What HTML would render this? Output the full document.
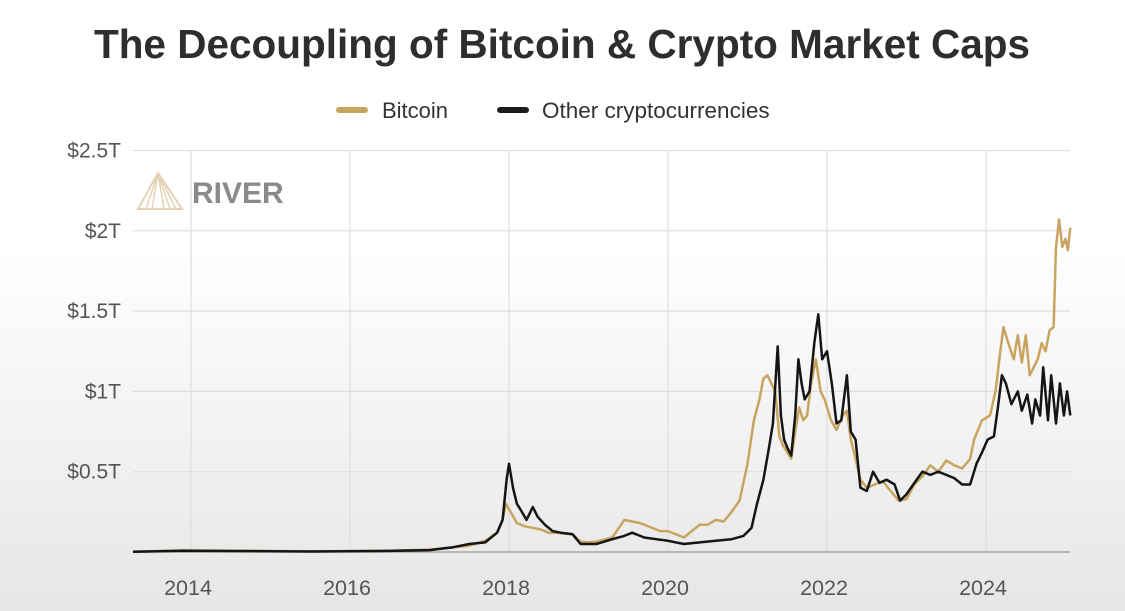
<!DOCTYPE html>
<html><head><meta charset="utf-8"><style>
html,body{margin:0;padding:0}
body{width:1125px;height:611px;overflow:hidden;background:linear-gradient(#ffffff 0%,#ffffff 40%,#e6e6e6 100%);font-family:"Liberation Sans",sans-serif}
</style></head><body>
<svg id="chart" width="1125" height="611" xmlns="http://www.w3.org/2000/svg" style="position:absolute;left:0;top:0">
<text x="562" y="58" text-anchor="middle" font-size="40.5" font-weight="bold" fill="#2e2e2e">The Decoupling of Bitcoin &amp; Crypto Market Caps</text>
<g>
<g><rect x="336" y="107" width="32" height="6" rx="3" fill="#c9a461"/><text x="382" y="118" font-size="22" fill="#333">Bitcoin</text></g>
<g><rect x="497" y="107" width="32" height="6" rx="3" fill="#1c1c1c"/><text x="542" y="118" font-size="22.5" fill="#333">Other cryptocurrencies</text></g>
</g>
<g>
<path d="M158 173 L138 209 L182 209 Z" fill="none" stroke="#e3d3b4" stroke-width="2"/>
<path d="M158 173 L146 209 M158 173 L152 209 M158 173 L164 209 M158 173 L170 209 M158 173 L176 209" stroke="#e3d3b4" stroke-width="1.5"/>
<text x="192" y="203" font-size="30" font-weight="bold" fill="#8a8a8a">RIVER</text>
</g>
<g id="grid"></g><g id="axes"></g><g id="series"></g>
</svg>
<script>
const yTicks=[0.5,1,1.5,2,2.5];
const yTickLabels=["$0.5T","$1T","$1.5T","$2T","$2.5T"];
const xTicks=[2014,2016,2018,2020,2022,2024];
const btcDates=[2013.27,2013.9,2014.5,2015.5,2016.5,2017.0,2017.3,2017.5,2017.7,2017.85,2017.92,2017.96,2018.02,2018.1,2018.2,2018.3,2018.4,2018.5,2018.6,2018.8,2018.9,2019.0,2019.1,2019.3,2019.45,2019.55,2019.65,2019.8,2019.9,2020.0,2020.2,2020.3,2020.4,2020.5,2020.6,2020.7,2020.8,2020.9,2021.0,2021.08,2021.15,2021.2,2021.25,2021.3,2021.35,2021.4,2021.45,2021.5,2021.55,2021.6,2021.65,2021.7,2021.75,2021.8,2021.86,2021.92,2021.97,2022.05,2022.12,2022.2,2022.25,2022.3,2022.35,2022.42,2022.5,2022.6,2022.7,2022.8,2022.9,2023.0,2023.1,2023.2,2023.3,2023.4,2023.5,2023.6,2023.7,2023.8,2023.85,2023.95,2024.05,2024.12,2024.18,2024.22,2024.28,2024.35,2024.4,2024.45,2024.5,2024.55,2024.6,2024.65,2024.7,2024.75,2024.8,2024.85,2024.88,2024.92,2024.96,2025.0,2025.03,2025.06];
const btcValues=[0.002,0.01,0.008,0.004,0.008,0.015,0.03,0.04,0.07,0.12,0.2,0.3,0.25,0.18,0.16,0.15,0.14,0.12,0.12,0.11,0.065,0.06,0.065,0.09,0.2,0.19,0.18,0.15,0.13,0.13,0.09,0.13,0.17,0.17,0.2,0.19,0.25,0.32,0.55,0.82,0.95,1.08,1.1,1.05,1.0,0.72,0.66,0.62,0.58,0.75,0.9,0.82,0.85,1.05,1.2,1.0,0.95,0.82,0.76,0.85,0.88,0.7,0.6,0.45,0.4,0.42,0.44,0.38,0.32,0.33,0.42,0.47,0.54,0.5,0.57,0.54,0.52,0.58,0.7,0.82,0.85,1.0,1.25,1.4,1.3,1.2,1.35,1.18,1.35,1.1,1.15,1.2,1.3,1.25,1.38,1.4,1.9,2.07,1.9,1.95,1.88,2.02];
const othDates=[2013.27,2013.9,2014.5,2015.5,2016.5,2017.0,2017.3,2017.5,2017.7,2017.85,2017.92,2017.97,2018.0,2018.05,2018.1,2018.15,2018.22,2018.3,2018.36,2018.45,2018.55,2018.65,2018.8,2018.9,2019.1,2019.3,2019.45,2019.55,2019.7,2019.85,2020.0,2020.2,2020.4,2020.6,2020.8,2020.95,2021.05,2021.12,2021.2,2021.27,2021.32,2021.38,2021.42,2021.46,2021.5,2021.55,2021.6,2021.64,2021.68,2021.72,2021.78,2021.84,2021.89,2021.94,2022.0,2022.06,2022.12,2022.18,2022.25,2022.3,2022.36,2022.42,2022.5,2022.58,2022.66,2022.75,2022.85,2022.92,2023.0,2023.1,2023.2,2023.3,2023.4,2023.5,2023.6,2023.7,2023.8,2023.88,2023.95,2024.02,2024.1,2024.15,2024.2,2024.25,2024.32,2024.4,2024.45,2024.52,2024.58,2024.62,2024.68,2024.72,2024.78,2024.82,2024.88,2024.93,2024.98,2025.02,2025.06];
const othValues=[0.002,0.008,0.006,0.003,0.007,0.012,0.03,0.05,0.06,0.12,0.2,0.45,0.55,0.4,0.3,0.26,0.2,0.28,0.22,0.17,0.13,0.12,0.11,0.05,0.05,0.08,0.1,0.12,0.09,0.08,0.07,0.05,0.06,0.07,0.08,0.1,0.15,0.3,0.45,0.65,0.8,1.28,0.85,0.7,0.65,0.6,0.85,1.2,1.05,0.95,1.0,1.3,1.48,1.2,1.25,1.05,0.8,0.82,1.1,0.75,0.7,0.4,0.38,0.5,0.43,0.45,0.42,0.32,0.36,0.43,0.5,0.48,0.5,0.48,0.46,0.42,0.42,0.55,0.62,0.7,0.72,0.9,1.1,1.05,0.92,1.0,0.88,0.98,0.8,0.95,0.85,1.15,0.82,1.1,0.8,1.05,0.85,1.0,0.85];
const X=t=>191+79.5*(t-2014), Y=v=>552-160.6*v;
const NS='http://www.w3.org/2000/svg';
function mk(tag,at,parent){const e=document.createElementNS(NS,tag);for(const k in at)e.setAttribute(k,at[k]);parent.appendChild(e);return e;}
const grid=document.getElementById('grid'),axes=document.getElementById('axes'),ser=document.getElementById('series');
yTicks.forEach((v,i)=>{
 const l=mk('line',{x1:133,x2:1070,y1:Y(v),y2:Y(v),stroke:'#dedede','stroke-width':1.2},grid);
 
 
 const t=mk('text',{x:121,y:Y(v)+7,'text-anchor':'end','font-size':21,fill:'#555'},axes);
 t.textContent=yTickLabels[i];
 
 
});
xTicks.forEach(y=>{
 const l=mk('line',{x1:X(y),x2:X(y),y1:151,y2:552,stroke:'#dedede','stroke-width':1.2},grid);
 
 
 const t=mk('text',{x:X(y)-3,y:595,'text-anchor':'middle','font-size':21.5,fill:'#555'},axes);
 t.textContent=y;
 
 
});
const base=mk('line',{x1:133,x2:1070,y1:552,y2:552,stroke:'#999','stroke-width':1.2},axes);


function path(d,v){return d.map((t,i)=>(i?'L':'M')+X(t).toFixed(1)+' '+Y(v[i]).toFixed(1)).join(' ');}
const p1=mk('path',{d:path(btcDates,btcValues),fill:'none',stroke:'#c9a461','stroke-width':2.5,'stroke-linejoin':'round'},ser);


const p2=mk('path',{d:path(othDates,othValues),fill:'none',stroke:'#151515','stroke-width':2.5,'stroke-linejoin':'round'},ser);


</script>
</body></html>
